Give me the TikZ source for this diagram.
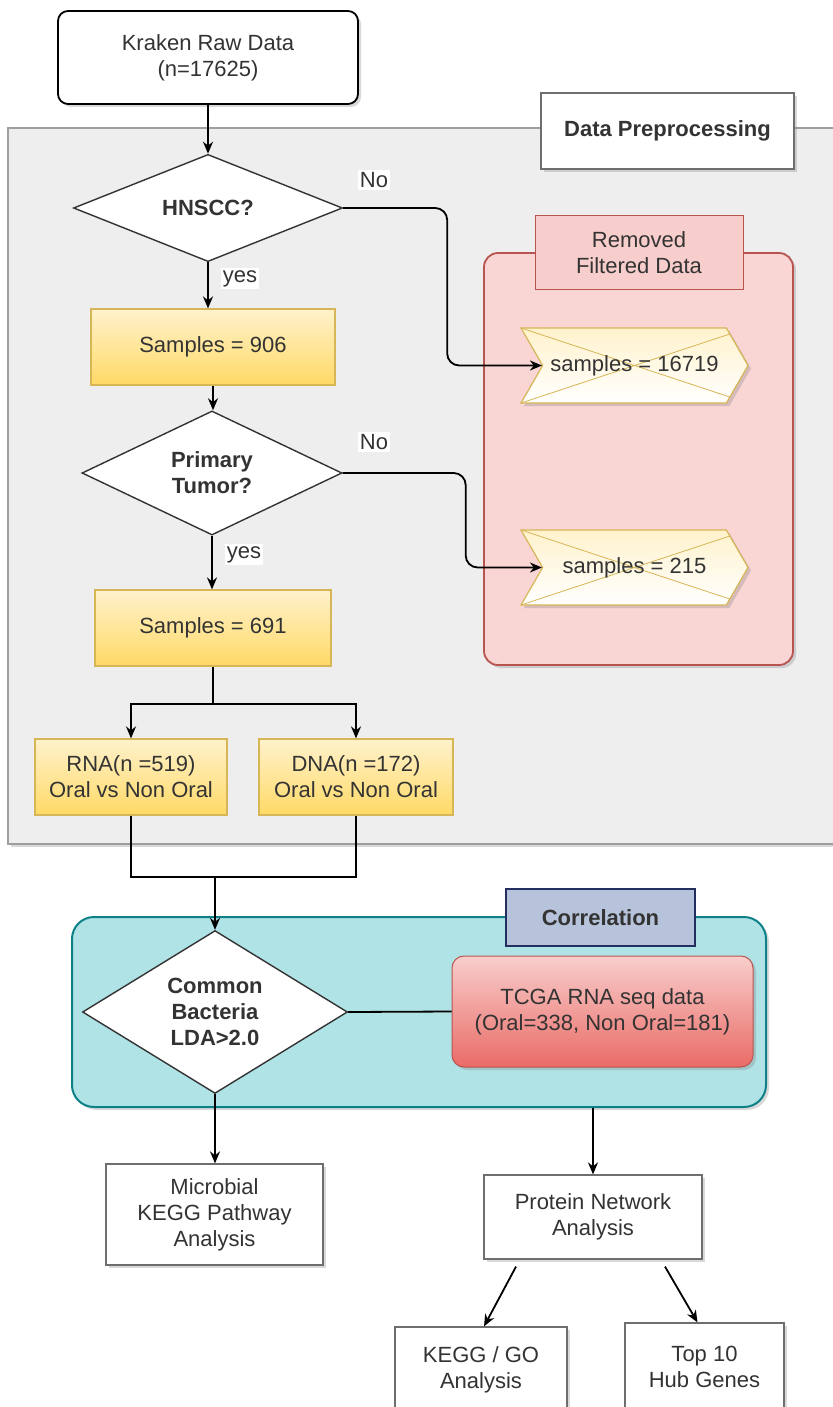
\documentclass[tikz,border=0pt]{standalone}
\usepackage{fontspec}
\setmainfont{Liberation Sans}
\usetikzlibrary{shapes.geometric,shapes.symbols,arrows.meta,shadows,calc}

\definecolor{txtgray}{HTML}{333333}
\definecolor{panelfill}{HTML}{EEEEEE}
\definecolor{panelline}{HTML}{9E9E9E}
\definecolor{boxline}{HTML}{6E6E6E}
\definecolor{yeltop}{HTML}{FFF2CC}
\definecolor{yelbot}{HTML}{FFD966}
\definecolor{yelline}{HTML}{D6B656}
\definecolor{remfill}{HTML}{F9D5D4}
\definecolor{remline}{HTML}{B85450}
\definecolor{remlblfill}{HTML}{F8CECC}
\definecolor{tealfill}{HTML}{B0E3E6}
\definecolor{tealline}{HTML}{0E8088}
\definecolor{corrfill}{HTML}{B7C3DA}
\definecolor{corrline}{HTML}{23305F}
\definecolor{redtop}{HTML}{F8CECC}
\definecolor{redbot}{HTML}{EA6B66}

\tikzset{
  txt/.style={font=\fontsize{11}{13}\selectfont, text=txtgray, align=center, inner sep=0pt},
  boldtxt/.style={font=\fontsize{11}{13}\selectfont\bfseries},
  softshadow/.style={drop shadow={opacity=0.3, shadow xshift=1.5pt, shadow yshift=-1.5pt}},
  whitebox/.style={txt, draw=boxline, fill=white, line width=0.6pt, softshadow},
  startbox/.style={txt, draw=black, fill=white, line width=0.9pt, rounded corners=5pt, softshadow},
  decision/.style={txt, boldtxt, diamond, draw=black!80, fill=white, line width=0.7pt},
  yellowbox/.style={txt, draw=yelline, top color=yeltop, bottom color=yelbot, line width=0.6pt},
  rejectbox/.style={txt, signal, signal to=east, signal from=west, signal pointer angle=120,
    draw=yelline, top color=yeltop, bottom color=white, line width=0.6pt, softshadow,
    path picture={\draw[yelline, line width=0.4pt]
      (path picture bounding box.north west) -- (path picture bounding box.south east)
      (path picture bounding box.south west) -- (path picture bounding box.north east);}},
  panel/.style={draw=panelline, fill=panelfill, line width=0.6pt, softshadow},
  removed/.style={draw=remline, fill=remfill, line width=0.9pt, rounded corners=7pt, softshadow},
  remlbl/.style={txt, draw=remline, fill=remlblfill, line width=0.5pt},
  corrbox/.style={draw=tealline, fill=tealfill, line width=1pt, rounded corners=11pt, softshadow},
  corrlbl/.style={txt, boldtxt, draw=corrline, fill=corrfill, line width=0.8pt},
  tcgabox/.style={txt, draw=remline, top color=redtop, bottom color=redbot, line width=0.5pt,
    rounded corners=6pt, softshadow},
  arr/.style={draw=black, line width=0.9pt, -{Stealth[length=6pt, width=5pt]}},
  link/.style={draw=black, line width=0.9pt},
  lbl/.style={txt, fill=white, inner sep=1pt}
}

\begin{document}
\begin{tikzpicture}[x=0.5pt, y=-0.5pt]
  \useasboundingbox (0,0) rectangle (833,1407);

  % containers
  \node[panel, minimum width=426pt, minimum height=358pt] (prep) at (434,486) {};
  \node[whitebox, boldtxt, minimum width=126.5pt, minimum height=38pt] (preplbl) at (667.5,131) {Data Preprocessing};
  \node[removed, minimum width=154.5pt, minimum height=206pt] (rem) at (638.5,459) {};
  \node[remlbl, minimum width=104pt, minimum height=36.5pt] (remlbl) at (639,252.5) {Removed\\Filtered Data};
  \node[corrbox, minimum width=347pt, minimum height=95pt] (corr) at (419,1012) {};
  \node[corrlbl, minimum width=94.5pt, minimum height=28.5pt] (corrlbl) at (600.5,917.5) {Correlation};

  % flow
  \node[startbox, minimum width=150pt, minimum height=46.5pt] (kraken) at (208,57.5) {Kraken Raw Data\\(n=17625)};
  \node[decision, minimum width=134.5pt, minimum height=45pt] (hnscc) at (208,208) {HNSCC?};
  \node[yellowbox, minimum width=122pt, minimum height=38pt] (s906) at (213,347) {Samples = 906};
  \node[decision, minimum width=130pt, minimum height=46pt] (primary) at (212,473) {Primary\\Tumor?};
  \node[yellowbox, minimum width=118pt, minimum height=38pt] (s691) at (213,628) {Samples = 691};
  \node[yellowbox, minimum width=96pt, minimum height=38pt] (rna) at (131,777) {RNA(n =519)\\Oral vs Non Oral};
  \node[yellowbox, minimum width=97pt, minimum height=38pt] (dna) at (356,777) {DNA(n =172)\\Oral vs Non Oral};
  \node[rejectbox, minimum width=113.5pt, minimum height=37.5pt] (rej1) at (634.5,365.5) {samples = 16719};
  \node[rejectbox, minimum width=113.5pt, minimum height=37.5pt] (rej2) at (634.5,567.5) {samples = 215};
  \node[decision, minimum width=132.5pt, minimum height=74pt] (common) at (215,1012) {Common\\Bacteria\\LDA>2.0};
  \node[tcgabox, minimum width=150.5pt, minimum height=55.5pt] (tcga) at (602.5,1011.5) {TCGA RNA seq data\\(Oral=338, Non Oral=181)};
  \node[whitebox, minimum width=108.5pt, minimum height=50.5pt] (micro) at (214.5,1214.5) {Microbial\\KEGG Pathway\\Analysis};
  \node[whitebox, minimum width=109pt, minimum height=42pt] (prot) at (593,1217) {Protein Network\\Analysis};
  \node[whitebox, minimum width=86pt, minimum height=43pt] (kegg) at (481,1370) {KEGG / GO\\Analysis};
  \node[whitebox, minimum width=79.5pt, minimum height=44pt] (hub) at (704.5,1367) {Top 10\\Hub Genes};

  % connectors
  \draw[arr] (kraken.south) -- (kraken.south |- hnscc.north);
  \draw[arr] (hnscc.south) -- node[lbl, right=6pt, pos=0.35] (yes1) {yes} (hnscc.south |- s906.north);
  \draw[arr] (s906.south) -- (s906.south |- primary.north);
  \draw[arr] (primary.south) -- node[lbl, right=6pt, pos=0.35] (yes2) {yes} (primary.south |- s691.north);
  \draw[arr, rounded corners=6pt] (hnscc.east) -- ++(104,0) |- (rej1.west);
  \draw[arr, rounded corners=6pt] (primary.east) -- ++(123,0) |- (rej2.west);
  \node[lbl] (no1) at (374,180) {No};
  \node[lbl] (no2) at (374,442) {No};

  \draw[link] (s691.south) -- ++(0,37) coordinate (split);
  \draw[arr] (split) -| (rna.north);
  \draw[arr] (split) -| (dna.north);
  \draw[link] (rna.south) -- ++(0,61) -| (dna.south);
  \coordinate (merge) at (common.north |- 0,876);
  \draw[arr] (merge) -- (common.north);

  \draw[link] (common.east) -- (tcga.west);
  \draw[arr] (common.south) -- (common.south |- micro.north);
  \draw[arr] (prot.north |- corr.south) -- (prot.north);
  \draw[arr] ($(prot.south)+(-77,7)$) -- ($(kegg.north)+(3,0)$);
  \draw[arr] ($(prot.south)+(72,7)$) -- ($(hub.north)+(-7,0)$);
\end{tikzpicture}
\end{document}
